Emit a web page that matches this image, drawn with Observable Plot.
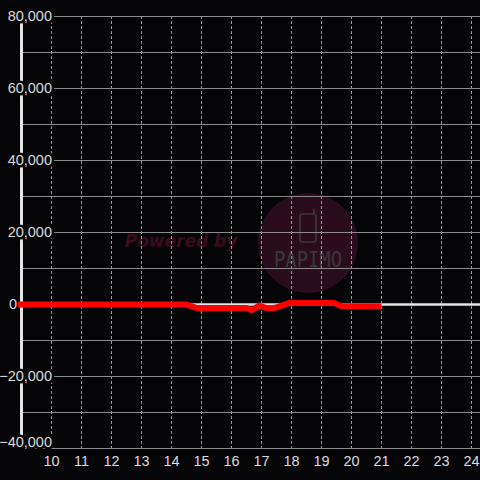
<!DOCTYPE html>
<html>
<head>
<meta charset="utf-8">
<script src="https://cdn.jsdelivr.net/npm/d3@7"></script>
<script src="https://cdn.jsdelivr.net/npm/@observablehq/plot@0.6"></script>
<style>
  html, body { margin: 0; padding: 0; background: #050407; }
  #wrap { position: relative; width: 480px; height: 480px; overflow: hidden; }
  #wm { position: absolute; left: 0; top: 0; z-index: 0; }
  #chart { position: absolute; left: 0; top: 0; z-index: 1; }
  #chart svg { background: transparent; }
</style>
</head>
<body>
<div id="wrap">
  <svg id="wm" width="480" height="480">
    <circle cx="308" cy="243" r="50" fill="#2b0c1d"/>
    <text x="181" y="247" text-anchor="middle" font-family="DejaVu Sans, sans-serif" font-weight="bold" font-style="italic" font-size="17" fill="#3b0b20">Powered by</text>
    <rect x="300" y="214" width="16" height="28" rx="2.5" fill="none" stroke="#3a3a3a" stroke-width="1.6"/>
    <line x1="314" y1="214" x2="314" y2="209" stroke="#3a3a3a" stroke-width="1.6"/>
    <text x="308" y="267" text-anchor="middle" font-family="DejaVu Sans Mono, monospace" font-size="22" fill="#3a3a3a" textLength="68" lengthAdjust="spacingAndGlyphs">PAPIMO</text>
  </svg>
  <div id="chart"></div>
</div>
<script>
// Data
const hours  = [8.88, 10, 11, 12, 13, 14, 14.5, 14.85, 16.5, 16.67, 16.92, 17.17, 17.42, 17.92, 19.42, 19.67, 21];
const values = [0, 0, 0, 0, 0, 0, 0, -1000, -1000, -1600, -300, -1000, -1000, 400, 400, -500, -500];
const xTicks = [10, 11, 12, 13, 14, 15, 16, 17, 18, 19, 20, 21, 22, 23, 24];
const yGrid = [-40000, -30000, -20000, -10000, 0, 10000, 20000, 30000, 40000, 50000, 60000, 70000, 80000];
const yLabels = [-20000, 20000, 40000, 60000, 80000];
const yZeroLabel = [0];
const yBottomLabel = [-40000];

const series = hours.map((h, i) => ({h, v: values[i]}));
const fmt = d3.format(",");
const bg = "#050407";

const chart = Plot.plot({
  width: 480,
  height: 480,
  marginLeft: 21,
  marginRight: 0,
  marginTop: 16,
  marginBottom: 32,
  style: {background: "transparent", fontFamily: "Liberation Sans, Arial, sans-serif", fontSize: "14.5px", color: "#dcdcdc", overflow: "visible"},
  x: {domain: [9, 24.3], axis: null},
  y: {domain: [-40000, 80000], axis: null},
  marks: [
    Plot.ruleX(xTicks, {stroke: "#9a9a9a", strokeWidth: 1, strokeDasharray: "3,2"}),
    Plot.ruleY(yGrid, {stroke: "#8c8c8c", strokeWidth: 1}),
    Plot.ruleX([9], {stroke: "#e4e4e4", strokeWidth: 3}),
    Plot.ruleY([0], {stroke: "#e4e4e4", strokeWidth: 2.5}),
    Plot.text(yLabels, {y: d => d, text: d => fmt(d), frameAnchor: "left", textAnchor: "end", dx: 30.5, fill: "#dcdcdc", stroke: bg, strokeWidth: 5, fontSize: 14.5}),
    Plot.text(yBottomLabel, {y: d => d, text: d => fmt(d), frameAnchor: "left", textAnchor: "end", dx: 30.5, dy: -6, fill: "#dcdcdc", stroke: bg, strokeWidth: 5, fontSize: 14.5}),
    Plot.text(yZeroLabel, {y: d => d, text: d => fmt(d), frameAnchor: "left", textAnchor: "end", dx: -4.5, fill: "#dcdcdc", fontSize: 14.5}),
    Plot.line(series, {x: "h", y: "v", stroke: "#ff0000", strokeWidth: 6, strokeLinejoin: "round", strokeLinecap: "butt", clip: false}),
    Plot.axisX(xTicks, {tickSize: 0, tickPadding: 7, fill: "#dcdcdc", fontSize: 14.5, label: null, tickFormat: d => String(d)})
  ]
});
document.getElementById("chart").appendChild(chart);
</script>
</body>
</html>
